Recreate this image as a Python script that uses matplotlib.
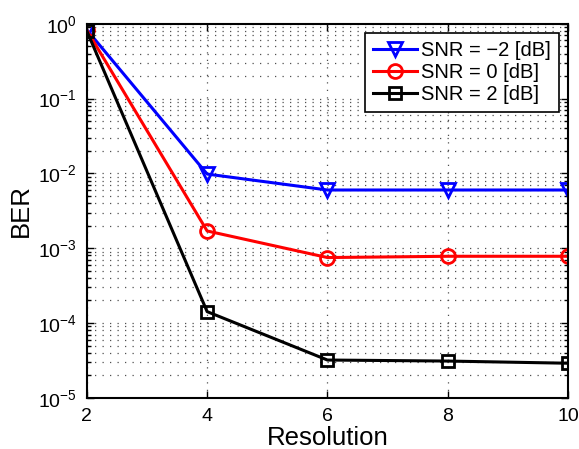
import numpy as np
import matplotlib
matplotlib.use('Agg')
import matplotlib.pyplot as plt
from matplotlib.ticker import LogLocator, NullFormatter

plt.rcParams['font.family'] = ['Liberation Sans', 'DejaVu Sans']

resolution = [2, 4, 6, 8, 10]
ber_snr_m2 = [0.83, 0.0098, 0.0060, 0.0060, 0.0060]
ber_snr_0 = [0.82, 0.0017, 0.00075, 0.00078, 0.00078]
ber_snr_2 = [0.80, 0.000142, 0.000032, 0.000031, 0.000029]
labels = ['SNR = \u22122 [dB]', 'SNR = 0 [dB]', 'SNR = 2 [dB]']

fig = plt.figure(figsize=(5.79, 4.49), dpi=100)
ax = fig.add_axes([0.150, 0.114, 0.831, 0.833])

ax.semilogy(resolution, ber_snr_m2, 'b-v', lw=2.2, ms=10, mew=2, mfc='none', label=labels[0])
ax.semilogy(resolution, ber_snr_0, 'r-o', lw=2.2, ms=10, mew=2, mfc='none', label=labels[1])
ax.semilogy(resolution, ber_snr_2, 'k-s', lw=2.2, ms=9, mew=2, mfc='none', label=labels[2])

ax.set_xlim(2, 10)
ax.set_ylim(1e-5, 1)
ax.set_xticks(resolution)
ax.yaxis.set_major_locator(LogLocator(base=10, numticks=10))
ax.yaxis.set_minor_locator(LogLocator(base=10, subs=np.arange(2, 10), numticks=10))
ax.yaxis.set_minor_formatter(NullFormatter())

grid_style = dict(ls=(0, (1, 5)), color='#505050', lw=0.9)
ax.grid(True, which='major', **grid_style)
ax.grid(True, which='minor', axis='y', **grid_style)
ax.tick_params(which='both', direction='in', top=True, right=True, labelsize=14, width=1)
ax.tick_params(which='major', length=5)
ax.tick_params(which='minor', length=3)
ax.tick_params(axis='y', pad=7)
ax.tick_params(axis='x', pad=7)
for s in ax.spines.values():
    s.set_linewidth(1.5)

ax.set_xlabel('Resolution', fontsize=18.5, labelpad=1)
ax.set_ylabel('BER', fontsize=18.5, labelpad=4)

leg = ax.legend(loc='upper right', fontsize=14.5, fancybox=False, framealpha=1,
                edgecolor='black', borderpad=0.4, labelspacing=0.15, handlelength=2.2,
                handletextpad=0.2, borderaxespad=0.45)
leg.get_frame().set_linewidth(1.2)

fig.savefig('out.png', dpi=100)
